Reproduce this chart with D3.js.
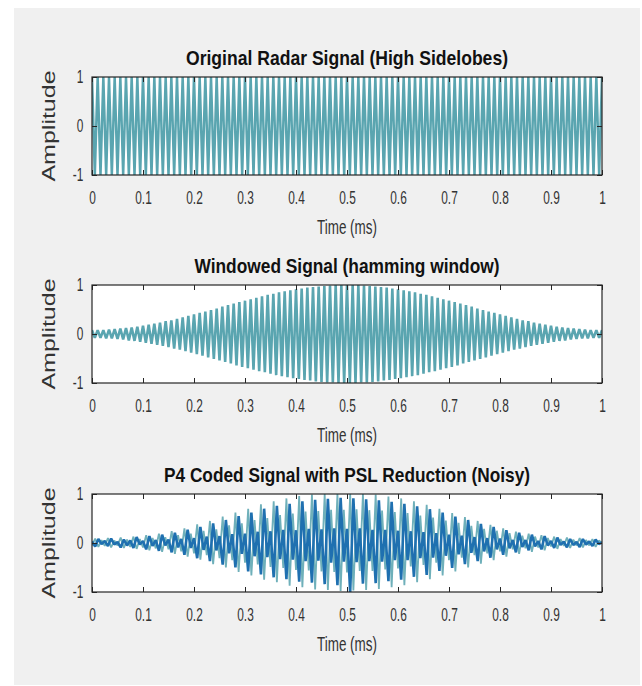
<!DOCTYPE html>
<html><head><meta charset="utf-8">
<script src="https://cdn.jsdelivr.net/npm/d3@7"></script>
<style>body{margin:0;background:#fff}svg{display:block}</style>
</head><body>
<svg id="chart" width="642" height="686"></svg>
<script>
// ---------- data ----------
const timeTicks = [0,0.1,0.2,0.3,0.4,0.5,0.6,0.7,0.8,0.9,1];
const timeTickLabels = ["0","0.1","0.2","0.3","0.4","0.5","0.6","0.7","0.8","0.9","1"];
const ampTicks = [-1,0,1];
const ampTickLabels = ["-1","0","1"];
const titles = ["Original Radar Signal (High Sidelobes)","Windowed Signal (hamming window)","P4 Coded Signal with PSL Reduction (Noisy)"];
const xLabel = "Time (ms)";
const yLabel = "Amplitude";

// samples, evenly spaced over 0..1 ms
const originalSignal = [
1,-1,1,-1,1,-1,1,-1,1,-1, 1,-1,1,-1,1,-1,1,-1,1,-1, 1,-1,1,-1,1,-1,1,-1,1,-1,
1,-1,1,-1,1,-1,1,-1,1,-1, 1,-1,1,-1,1,-1,1,-1,1,-1, 1,-1,1,-1,1,-1,1,-1,1,-1,
1,-1,1,-1,1,-1,1,-1,1,-1, 1,-1,1,-1,1,-1,1,-1,1,-1, 1,-1,1,-1,1,-1,1,-1,1,-1,
1,-1,1,-1,1,-1,1,-1,1,-1, 1,-1,1,-1,1,-1,1,-1,1,-1, 1,-1,1,-1,1,-1,1,-1,1,-1,
1,-1,1,-1,1,-1,1,-1,1,-1, 1,-1,1,-1,1,-1,1,-1,1,-1, 1,-1,1,-1,1,-1,1,-1,1,-1,
1,-1,1,-1,1,-1,1,-1,1,-1, 1,-1,1,-1,1,-1,1,-1,1,-1, 1,-1,1,-1,1,-1,1,-1,1,-1,
1];

const windowedSignal = [
.08,-.08,.08,-.08,.08,-.09,.09,-.09,.10,-.10,
.11,-.11,.12,-.13,.13,-.14,.15,-.16,.17,-.18,
.19,-.20,.21,-.22,.23,-.24,.26,-.27,.28,-.30,
.31,-.32,.34,-.35,.37,-.38,.40,-.41,.43,-.44,
.46,-.48,.49,-.51,.52,-.54,.56,-.57,.59,-.60,
.62,-.64,.65,-.67,.68,-.70,.71,-.73,.74,-.76,
.77,-.78,.80,-.81,.82,-.84,.85,-.86,.87,-.88,
.89,-.90,.91,-.92,.93,-.94,.95,-.95,.96,-.97,
.97,-.98,.98,-.99,.99,-.99,1,-1,1,-1,
1,
-1,1,-1,1,-.99,.99,-.99,.98,-.98,.97,
-.97,.96,-.95,.95,-.94,.93,-.92,.91,-.90,.89,
-.88,.87,-.86,.85,-.84,.82,-.81,.80,-.78,.77,
-.76,.74,-.73,.71,-.70,.68,-.67,.65,-.64,.62,
-.60,.59,-.57,.56,-.54,.52,-.51,.49,-.48,.46,
-.44,.43,-.41,.40,-.38,.37,-.35,.34,-.32,.31,
-.30,.28,-.27,.26,-.24,.23,-.22,.21,-.20,.19,
-.18,.17,-.16,.15,-.14,.13,-.13,.12,-.11,.11,
-.10,.10,-.09,.09,-.09,.08,-.08,.08,-.08,.08];

const p4Teal = [
-.05,.09,-.08,.06, -.06,.10,-.09,.05, -.05,.11,-.10,.07, -.08,.13,-.12,.08,
-.09,.16,-.15,.10, -.11,.19,-.18,.12, -.13,.24,-.22,.16, -.17,.30,-.28,.19,
-.21,.38,-.34,.25, -.25,.45,-.43,.28, -.31,.54,-.50,.36, -.35,.62,-.59,.40,
-.40,.70,-.66,.47, -.44,.79,-.75,.51, -.49,.85,-.80,.57, -.51,.91,-.87,.60,
-.55,.96,-.90,.64, -.56,.99,-.95,.65, -.58,1,-.96,.68, -.59,1,-.98,.68,
-.60,1,-.97,.69, -.57,1,-.96,.67, -.57,.99,-.94,.66, -.54,.95,-.90,.63,
-.52,.91,-.86,.61, -.48,.85,-.80,.56, -.45,.78,-.74,.52, -.40,.70,-.66,.46,
-.35,.61,-.58,.41, -.30,.53,-.50,.35, -.25,.45,-.42,.29, -.21,.37,-.35,.25,
-.17,.30,-.28,.20, -.13,.23,-.22,.15, -.11,.19,-.18,.13, -.09,.16,-.15,.10,
-.07,.13,-.12,.08, -.06,.11,-.10,.07, -.05,.10,-.09,.06, -.05,.08,-.08,.05,
0];

const p4Blue = [
.03,-.07,.08,-.02, .04,-.06,.09,-.03, .02,-.09,.07,-.05, .05,-.10,.12,-.03,
.04,-.13,.14,-.06, .06,-.16,.17,-.05, .07,-.19,.21,-.09, .08,-.24,.27,-.10,
.10,-.31,.33,-.14, .13,-.37,.40,-.15, .14,-.44,.47,-.21, .18,-.50,.55,-.22,
.19,-.58,.62,-.27, .23,-.64,.70,-.29, .24,-.70,.76,-.33, .27,-.74,.80,-.34,
.26,-.79,.85,-.37, .29,-.81,.88,-.36, .28,-.84,.90,-.40, .30,-.86,.92,-.38,
.29,-1,.91,-.39, .30,-.83,.89,-.37, .27,-.82,.87,-.38, .27,-.78,.84,-.35,
.25,-.75,.80,-.35, .24,-.69,.75,-.31, .22,-.65,.69,-.30, .20,-.57,.62,-.26,
.17,-.51,.54,-.23, .15,-.43,.47,-.20, .12,-.37,.39,-.17, .10,-.30,.33,-.13,
.09,-.24,.26,-.11, .06,-.19,.21,-.08, .06,-.15,.17,-.07, .04,-.13,.14,-.05,
.04,-.10,.11,-.04, .03,-.09,.08,-.04, .02,-.08,.08,-.03, .03,-.06,.07,-.02,
.01];

// ---------- layout / style ----------
const left = 92, W = 510, H = 98;
const panelTops = [77, 285, 494];
const titleWidths = [322, 305, 366];
const panels = [
  {series:[{data:originalSignal, color:"#5aa5b0", width:2.5}]},
  {series:[{data:windowedSignal, color:"#5aa5b0", width:2.6}]},
  {series:[{data:p4Teal, color:"#6fb0ba", width:1.8},{data:p4Blue, color:"#1f70b0", width:2.6}]}
];
const axisColor = "#262626";
const sx = 0.66;
const font = "'Liberation Sans', Arial, sans-serif";

const svg = d3.select("#chart");
svg.append("rect").attr("x",14).attr("y",8).attr("width",626).attr("height",677).attr("fill","#f0f0f0");

panels.forEach((p,k) => {
  const g = svg.append("g").attr("transform",`translate(${left},${panelTops[k]})`);
  const x = d3.scaleLinear().domain([0,1]).range([0,W]);
  const y = d3.scaleLinear().domain([-1,1]).range([H,0]);

  g.append("rect").attr("width",W).attr("height",H).attr("fill","#fff");
  const clipId = "clip"+k;
  g.append("clipPath").attr("id",clipId).append("rect").attr("width",W).attr("height",H);
  const plot = g.append("g").attr("clip-path",`url(#${clipId})`);

  p.series.forEach(s => {
    const xi = d3.scaleLinear().domain([0, s.data.length-1]).range([0,W]);
    const line = d3.line().x((d,i)=>xi(i)).y(d=>y(d));
    plot.append("path").datum(s.data).attr("d",line)
      .attr("fill","none").attr("stroke",s.color).attr("stroke-width",s.width)
      .attr("stroke-linejoin","bevel");
  });

  const styleAxis = sel => {
    sel.attr("color",axisColor).attr("font-family",font).attr("font-size",18);
    sel.select(".domain").remove();
    sel.selectAll("text").attr("fill","#333").attr("transform",`scale(${sx},1)`);
  };
  g.append("g").attr("transform",`translate(0,${H})`)
    .call(d3.axisBottom(x).tickValues(timeTicks).tickFormat((d,i)=>timeTickLabels[i]).tickSize(-5).tickPadding(16))
    .call(styleAxis);
  g.append("g")
    .call(d3.axisTop(x).tickValues(timeTicks).tickFormat("").tickSize(-5))
    .call(styleAxis);
  g.append("g")
    .call(d3.axisLeft(y).tickValues(ampTicks).tickFormat((d,i)=>ampTickLabels[i]).tickSize(-5).tickPadding(13))
    .call(styleAxis);
  g.append("g").attr("transform",`translate(${W},0)`)
    .call(d3.axisRight(y).tickValues(ampTicks).tickFormat("").tickSize(-5))
    .call(styleAxis);

  g.append("rect").attr("width",W).attr("height",H).attr("fill","none")
    .attr("stroke",axisColor).attr("stroke-width",1.2);

  g.append("text").attr("x",W/2).attr("y",-12).attr("text-anchor","middle")
    .attr("font-family",font).attr("font-weight","bold")
    .attr("font-size",21).attr("fill","#111")
    .attr("textLength",titleWidths[k]).attr("lengthAdjust","spacingAndGlyphs")
    .text(titles[k]);

  g.append("text").attr("x",W/2).attr("y",H+59).attr("text-anchor","middle")
    .attr("font-family",font)
    .attr("font-size",20).attr("fill","#333")
    .attr("textLength",60).attr("lengthAdjust","spacingAndGlyphs")
    .text(xLabel);

  g.append("text")
    .attr("transform",`translate(-37,${H/2}) scale(0.7,1) rotate(-90)`)
    .attr("text-anchor","middle")
    .attr("font-family",font)
    .attr("font-size",25).attr("fill","#333")
    .text(yLabel);
});
</script>
</body></html>
